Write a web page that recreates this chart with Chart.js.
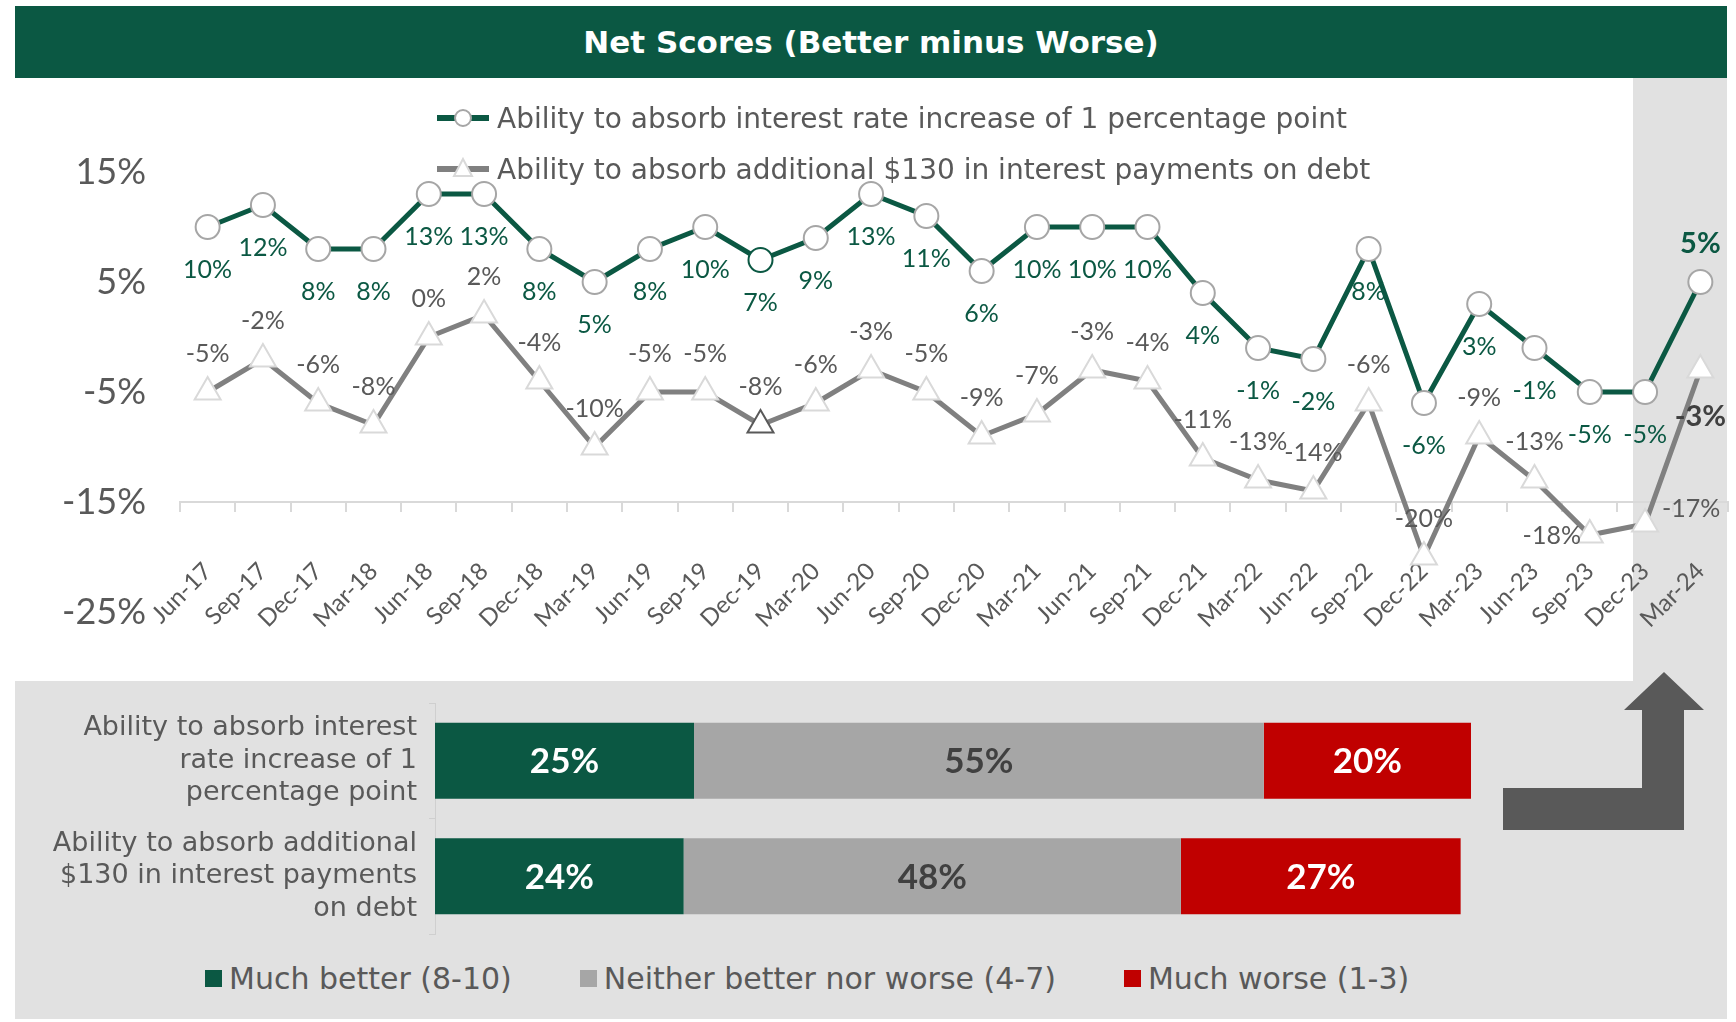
<!DOCTYPE html>
<html>
<head>
  <meta charset="utf-8">
  <title>Net Scores (Better minus Worse)</title>
  <script src="https://cdn.jsdelivr.net/npm/chart.js"></script>
  <style>
    body {
        margin: 0;
        background: #fff;
        font-family: Lato, "Open Sans", sans-serif;
    }
    .page {
        position: relative;
        width: 1736px;
        height: 1022px;
        overflow: hidden;
    }
    .title {
        position: absolute;
        left: 15px; top: 6px;
        width: 1712px; height: 72px;
        background: #0b5843;
        color: #fff;
        font-family: "DejaVu Sans", sans-serif;
        font-weight: bold;
        font-size: 31px;
        line-height: 72px;
        text-align: center;
    }
    .side {
        position: absolute;
        left: 1633px; top: 78px;
        width: 94px; height: 603px;
        background: #e1e1e1;
    }
    .bottom {
        position: absolute;
        left: 15px; top: 681px;
        width: 1712px; height: 338px;
        background: #e1e1e1;
    }
    #lineWrap {
        position: absolute;
        left: 0; top: 78px;
        width: 1736px; height: 603px;
    }
    #barWrap {
        position: absolute;
        left: 15px; top: 681px;
        width: 1712px; height: 270px;
    }
    .lgd-row {
        position: absolute;
        left: 437px;
        height: 40px;
        display: flex;
        align-items: center;
        font-family: "DejaVu Sans", sans-serif;
        font-size: 28px;
        color: #595959;
        white-space: nowrap;
    }
    .lgd-row svg { margin-right: 8px; }
    #barLegend {
        position: absolute;
        left: 205px; top: 958px;
        height: 40px;
        display: flex;
        align-items: center;
        font-family: "DejaVu Sans", sans-serif;
        font-size: 30px;
        color: #595959;
        white-space: nowrap;
    }
    .sw {
        display: inline-block;
        width: 17px; height: 17px;
        margin-right: 7px;
    }
    .item { display: flex; align-items: center; margin-right: 68px; }
    #arrow { position: absolute; left: 0; top: 0; }
  </style>
</head>
<body>
<div class="page">
  <div class="title">Net Scores (Better minus Worse)</div>
  <div class="side"></div>
  <div class="bottom"></div>
  <svg id="arrow" width="1736" height="1022">
    <polygon points="1503,788 1642,788 1642,710 1624,710 1664,672 1704,710 1684,710 1684,830 1503,830" fill="#595959"/>
  </svg>
  <div id="lineWrap"><canvas id="netChart"></canvas></div>
  <div id="lineLegend"></div>
  <div id="barWrap"><canvas id="splitChart"></canvas></div>
  <div id="barLegend"></div>
</div>

<script>
  // 분기 라벨
  const quarters = ['Jun-17','Sep-17','Dec-17','Mar-18','Jun-18','Sep-18','Dec-18','Mar-19','Jun-19','Sep-19',
    'Dec-19','Mar-20','Jun-20','Sep-20','Dec-20','Mar-21','Jun-21','Sep-21','Dec-21','Mar-22',
    'Jun-22','Sep-22','Dec-22','Mar-23','Jun-23','Sep-23','Dec-23','Mar-24'];

  const seriesNames = ['Ability to absorb interest rate increase of 1 percentage point',
    'Ability to absorb additional $130 in interest payments on debt'];

  // net score (%)
  const rateIncrease = [10, 12, 8, 8, 13, 13, 8, 5, 8, 10, 7, 9, 13, 11, 6, 10, 10, 10, 4, -1, -2, 8, -6, 3, -1, -5, -5, 5];
  const extraPayment = [-5, -2, -6, -8, 0, 2, -4, -10, -5, -5, -8, -6, -3, -5, -9, -7, -3, -4, -11, -13, -14, -6, -20, -9, -13, -18, -17, -3];

  const yTicks = [-25, -15, -5, 5, 15];

  // 하단 막대
  const barCategories = [
    ['Ability to absorb interest', 'rate increase of 1', 'percentage point'],
    ['Ability to absorb additional', '$130 in interest payments', 'on debt']
  ];
  const responseNames = ['Much better (8-10)', 'Neither better nor worse (4-7)', 'Much worse (1-3)'];
  const muchBetter = [25, 24];
  const neither = [55, 48];
  const muchWorse = [20, 27];

  const GREEN = '#0b5843';
  const responseColors = [GREEN, '#a6a6a6', '#c00000'];
  const responseText = ['#ffffff', '#404040', '#ffffff'];

  Chart.defaults.font.family = 'Lato, sans-serif';

  const last = quarters.length - 1;
  // 라벨 위치 (점 기준)
  const greenSpots = quarters.map((q, i) => i === last ? 'above' : 'below');
  const graySpots = quarters.map((q, i) => {
    if (q === 'Sep-23') return 'left';
    if (q === 'Dec-23') return 'right';
    if (i === last) return 'below';
    return 'above';
  });
  const spotOffset = {
    below: [0, 43], above: [0, -38], left: [-38, 1], right: [46, -15]
  };

  const pointLabels = {
    id: 'pointLabels',
    afterDatasetsDraw(chart) {
      const ctx = chart.ctx;
      const cfg = [
        { spots: greenSpots, color: GREEN, bold: GREEN },
        { spots: graySpots, color: '#595959', bold: '#404040' }
      ];
      ctx.save();
      ctx.textAlign = 'center';
      ctx.textBaseline = 'middle';
      chart.data.datasets.forEach((ds, d) => {
        const meta = chart.getDatasetMeta(d);
        meta.data.forEach((pt, i) => {
          const off = spotOffset[cfg[d].spots[i]];
          const isLast = i === last;
          ctx.font = (isLast ? 'bold 29px ' : '25px ') + 'Lato, sans-serif';
          ctx.fillStyle = isLast ? cfg[d].bold : cfg[d].color;
          ctx.fillText(ds.data[i] + '%', pt.x + off[0], pt.y + off[1] + (isLast && off[1] > 0 ? 4 : 0));
        });
      });
      ctx.restore();
    }
  };

  new Chart(document.getElementById('netChart'), {
    type: 'line',
    data: {
      labels: quarters,
      datasets: [{
        label: seriesNames[0],
        data: rateIncrease,
        borderColor: GREEN,
        borderWidth: 5,
        tension: 0,
        pointStyle: 'circle',
        pointRadius: 12,
        pointBackgroundColor: '#fff',
        pointBorderColor: quarters.map(q => q === 'Dec-19' ? GREEN : '#a6a6a6'),
        pointBorderWidth: 2
      }, {
        label: seriesNames[1],
        data: extraPayment,
        borderColor: '#808080',
        borderWidth: 5,
        tension: 0,
        pointStyle: 'triangle',
        pointRadius: 15,
        pointBackgroundColor: '#fff',
        pointBorderColor: quarters.map(q => q === 'Dec-19' ? '#595959' : '#d9d9d9'),
        pointBorderWidth: 2
      }]
    },
    options: {
      responsive: true,
      maintainAspectRatio: false,
      animation: false,
      layout: { autoPadding: false, padding: { top: 94, bottom: 69, left: 0, right: 8 } },
      plugins: { legend: { display: false }, tooltip: { enabled: false } },
      scales: {
        x: {
          position: { y: -15 },
          offset: true,
          grid: { display: true, drawOnChartArea: false, offset: true, tickLength: 9, color: '#d9d9d9', lineWidth: 2 },
          border: { display: true, color: '#d9d9d9', width: 2 },
          ticks: { autoSkip: false, minRotation: 45, maxRotation: 45, color: '#595959', font: { size: 24 }, padding: 46 },
          afterFit: s => { s.height = 0; s.paddingLeft = 0; s.paddingRight = 0; }
        },
        y: {
          min: -25,
          max: 15,
          afterBuildTicks: s => { s.ticks = yTicks.map(v => ({ value: v })); },
          ticks: { callback: v => v + '%', color: '#595959', font: { size: 36 }, padding: 26 },
          grid: { display: false },
          border: { display: false },
          afterFit: s => { s.width = 180; }
        }
      }
    },
    plugins: [pointLabels]
  });

  // 범례 (선 차트)
  const lineLegend = document.getElementById('lineLegend');
  [
    { y: 118, color: GREEN, marker: '<circle cx="26" cy="15" r="8" fill="#fff" stroke="#a6a6a6" stroke-width="2"/>' },
    { y: 169, color: '#808080', marker: '<polygon points="26,5 35,22 17,22" fill="#fff" stroke="#d9d9d9" stroke-width="2"/>' }
  ].forEach((r, i) => {
    const row = document.createElement('div');
    row.className = 'lgd-row';
    row.style.top = (r.y - 20) + 'px';
    row.innerHTML = '<svg width="52" height="30"><line x1="0" y1="15" x2="52" y2="15" stroke="' + r.color +
      '" stroke-width="6"/>' + r.marker + '</svg><span>' + seriesNames[i] + '</span>';
    lineLegend.appendChild(row);
  });

  const barLabels = {
    id: 'barLabels',
    afterDatasetsDraw(chart) {
      const ctx = chart.ctx;
      ctx.save();
      ctx.textAlign = 'center';
      ctx.textBaseline = 'middle';
      ctx.font = 'bold 35px Lato, sans-serif';
      chart.data.datasets.forEach((ds, d) => {
        chart.getDatasetMeta(d).data.forEach((bar, i) => {
          ctx.fillStyle = responseText[d];
          ctx.fillText(ds.data[i] + '%', (bar.x + bar.base) / 2, bar.y + 1);
        });
      });
      ctx.restore();
    }
  };

  new Chart(document.getElementById('splitChart'), {
    type: 'bar',
    data: {
      labels: barCategories,
      datasets: [muchBetter, neither, muchWorse].map((vals, i) => ({
        label: responseNames[i],
        data: vals,
        backgroundColor: responseColors[i],
        barPercentage: 0.66,
        categoryPercentage: 1
      }))
    },
    options: {
      indexAxis: 'y',
      responsive: true,
      maintainAspectRatio: false,
      animation: false,
      layout: { autoPadding: false, padding: { top: 22, bottom: 17, left: 0, right: 256 } },
      plugins: { legend: { display: false }, tooltip: { enabled: false } },
      scales: {
        x: { stacked: true, min: 0, max: 100, display: false },
        y: {
          stacked: true,
          grid: { display: true, drawOnChartArea: false, offset: true, tickLength: 6, color: '#cfcfcf' },
          border: { display: true, color: '#cfcfcf' },
          ticks: { color: '#595959', font: { family: '"DejaVu Sans", sans-serif', size: 27, lineHeight: 1.2 }, padding: 12 },
          afterFit: s => { s.width = 420; s.paddingTop = 0; s.paddingBottom = 0; }
        }
      }
    },
    plugins: [barLabels]
  });

  // 범례 (막대)
  const barLegend = document.getElementById('barLegend');
  responseNames.forEach((n, i) => {
    const it = document.createElement('div');
    it.className = 'item';
    it.innerHTML = '<span class="sw" style="background:' + responseColors[i] + '"></span><span>' + n + '</span>';
    barLegend.appendChild(it);
  });
</script>
</body>
</html>
